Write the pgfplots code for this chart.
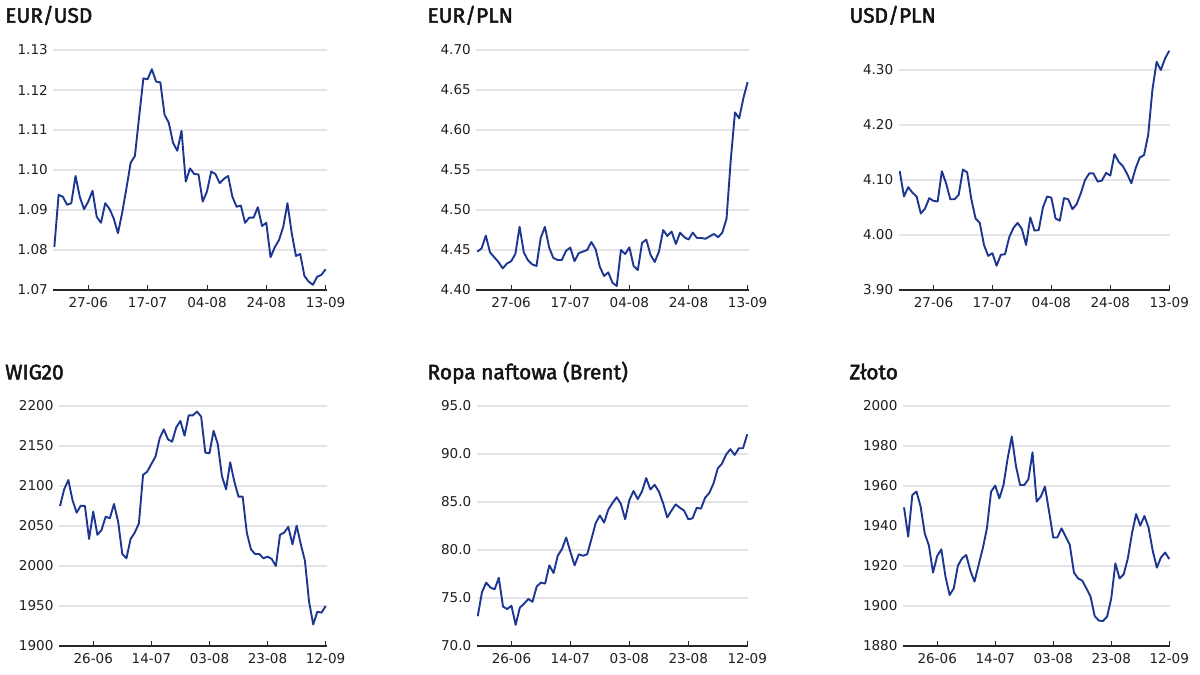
\documentclass[border=0pt]{standalone}
\usepackage{pgfplots}
\pgfplotsset{compat=1.18}
\usepackage{fontspec}
\setmainfont{DejaVu Sans}
\newfontfamily\tickfont{DejaVu Sans}
\newfontfamily\titlefont{Fira Sans}[BoldFont={*}, BoldFeatures={FakeBold=2.2}]
\definecolor{lineblue}{RGB}{28,54,145}
\definecolor{gridgray}{RGB}{228,228,232}
\definecolor{axisdark}{RGB}{40,40,40}
\pgfplotsset{
  panel/.style={
    scale only axis, height=240bp, anchor=south west,
    xmin=-0.25, xmax=64.25,
    axis x line*=bottom, axis y line*=left,
    y axis line style={draw=none},
    x axis line style={draw=axisdark, line width=1.5bp},
    ytick style={draw=none},
    xtick style={draw=axisdark, line width=0.9bp},
    tick align=inside, major tick length=5bp,
    ymajorgrids, grid style={draw=gridgray, line width=1.3bp},
    xtick={8,22,36,50,64},
    ticklabel style={font=\tickfont\fontsize{13.6}{15}\selectfont, text=black!88},
    yticklabel style={xshift=-2bp},
    xticklabel style={yshift=-3.5bp},
    clip=false,
  },
  ser/.style={draw=lineblue, line width=1.9bp, no marks, line join=round},
}
\begin{document}
\begin{tikzpicture}
\useasboundingbox (0bp,0bp) rectangle (1200bp,675bp);
\tikzset{ttl/.style={anchor=base west, inner sep=0pt, font=\titlefont\bfseries\fontsize{21}{24}\selectfont, text=black!92}}
\node[ttl] at (5bp,652.3bp) {EUR/USD};
\node[ttl] at (427.3bp,652.3bp) {EUR/PLN};
\node[ttl] at (849.3bp,652.3bp) {USD/PLN};
\node[ttl] at (5bp,295.7bp) {WIG20};
\node[ttl] at (427.3bp,295.7bp) {Ropa naftowa (Brent)};
\node[ttl] at (849.3bp,295.7bp) {Złoto};

% EUR/USD
\begin{axis}[panel, at={(53.3bp,385bp)}, width=273.4bp,
  ymin=1.07, ymax=1.13, ytick={1.07,1.08,1.09,1.10,1.11,1.12,1.13},
  yticklabels={1.07,1.08,1.09,1.10,1.11,1.12,1.13},
  xticklabels={27-06,17-07,04-08,24-08,13-09}]
\addplot[ser] coordinates {(0,1.0808)(1,1.0938)(2,1.0933)(3,1.0913)(4,1.0917)(5,1.0985)(6,1.0933)(7,1.0902)(8,1.0921)(9,1.0948)(10,1.0883)(11,1.0868)(12,1.0917)(13,1.0903)(14,1.0879)(15,1.0842)(16,1.0893)(17,1.0954)(18,1.1018)(19,1.1035)(20,1.1133)(21,1.1229)(22,1.1227)(23,1.1252)(24,1.1221)(25,1.1219)(26,1.1138)(27,1.1118)(28,1.1068)(29,1.1048)(30,1.1098)(31,1.0971)(32,1.1004)(33,1.0990)(34,1.0989)(35,1.0921)(36,1.0946)(37,1.0996)(38,1.0990)(39,1.0967)(40,1.0978)(41,1.0985)(42,1.0933)(43,1.0908)(44,1.0911)(45,1.0868)(46,1.0881)(47,1.0881)(48,1.0907)(49,1.0860)(50,1.0868)(51,1.0782)(52,1.0807)(53,1.0825)(54,1.0858)(55,1.0917)(56,1.0842)(57,1.0785)(58,1.0790)(59,1.0735)(60,1.0721)(61,1.0713)(62,1.0733)(63,1.0738)(64,1.0752)};
\end{axis}

% EUR/PLN
\begin{axis}[panel, at={(476.3bp,385bp)}, width=272.4bp,
  ymin=4.40, ymax=4.70, ytick={4.40,4.45,4.50,4.55,4.60,4.65,4.70},
  yticklabels={4.40,4.45,4.50,4.55,4.60,4.65,4.70},
  xticklabels={27-06,17-07,04-08,24-08,13-09}]
\addplot[ser] coordinates {(0,4.4479)(1,4.452)(2,4.468)(3,4.447)(4,4.441)(5,4.435)(6,4.427)(7,4.433)(8,4.436)(9,4.445)(10,4.479)(11,4.447)(12,4.437)(13,4.432)(14,4.430)(15,4.465)(16,4.479)(17,4.453)(18,4.440)(19,4.4375)(20,4.4375)(21,4.449)(22,4.453)(23,4.436)(24,4.446)(25,4.448)(26,4.450)(27,4.460)(28,4.451)(29,4.429)(30,4.4175)(31,4.422)(32,4.409)(33,4.405)(34,4.450)(35,4.445)(36,4.4533)(37,4.430)(38,4.425)(39,4.459)(40,4.463)(41,4.444)(42,4.435)(43,4.448)(44,4.475)(45,4.4675)(46,4.473)(47,4.4575)(48,4.4717)(49,4.466)(50,4.463)(51,4.4717)(52,4.465)(53,4.465)(54,4.464)(55,4.467)(56,4.470)(57,4.466)(58,4.4717)(59,4.489)(60,4.5625)(61,4.622)(62,4.6146)(63,4.640)(64,4.660)};
\end{axis}

% USD/PLN
\begin{axis}[panel, at={(898.7bp,385bp)}, width=271.6bp,
  ymin=3.90, ymax=4.3364, ytick={3.90,4.00,4.10,4.20,4.30},
  yticklabels={3.90,4.00,4.10,4.20,4.30},
  xticklabels={27-06,17-07,04-08,24-08,13-09}]
\addplot[ser] coordinates {(0,4.116)(1,4.070)(2,4.087)(3,4.077)(4,4.070)(5,4.039)(6,4.048)(7,4.067)(8,4.062)(9,4.061)(10,4.116)(11,4.094)(12,4.065)(13,4.065)(14,4.073)(15,4.119)(16,4.114)(17,4.065)(18,4.030)(19,4.022)(20,3.982)(21,3.962)(22,3.967)(23,3.944)(24,3.964)(25,3.965)(26,3.996)(27,4.013)(28,4.022)(29,4.011)(30,3.982)(31,4.032)(32,4.008)(33,4.009)(34,4.050)(35,4.070)(36,4.068)(37,4.030)(38,4.026)(39,4.067)(40,4.065)(41,4.047)(42,4.056)(43,4.076)(44,4.100)(45,4.112)(46,4.112)(47,4.097)(48,4.099)(49,4.113)(50,4.108)(51,4.147)(52,4.133)(53,4.125)(54,4.111)(55,4.094)(56,4.121)(57,4.141)(58,4.145)(59,4.182)(60,4.264)(61,4.315)(62,4.300)(63,4.321)(64,4.335)};
\end{axis}

% WIG20
\begin{axis}[panel, at={(59bp,29bp)}, width=267.7bp,
  ymin=1900, ymax=2200, ytick={1900,1950,2000,2050,2100,2150,2200},
  yticklabels={1900,1950,2000,2050,2100,2150,2200},
  xticklabels={26-06,14-07,03-08,23-08,12-09}]
\addplot[ser] coordinates {(0,2075)(1,2096)(2,2107.5)(3,2082.5)(4,2066.7)(5,2075.4)(6,2075)(7,2033.8)(8,2068)(9,2039)(10,2045)(11,2061.7)(12,2059.6)(13,2077.5)(14,2055.4)(15,2015)(16,2009.6)(17,2033.8)(18,2041.7)(19,2053.3)(20,2113.8)(21,2118)(22,2127.5)(23,2136.7)(24,2159.6)(25,2170.8)(26,2158.3)(27,2155.4)(28,2173.3)(29,2181.3)(30,2162.9)(31,2188.3)(32,2188.3)(33,2193)(34,2186.7)(35,2141.7)(36,2140.8)(37,2169)(38,2152.5)(39,2112.5)(40,2095.8)(41,2129.6)(42,2105.4)(43,2086.7)(44,2086.7)(45,2041.7)(46,2020.8)(47,2015)(48,2015)(49,2009.6)(50,2011.7)(51,2008.8)(52,2000)(53,2039)(54,2041.7)(55,2049)(56,2027)(57,2050.4)(58,2027.5)(59,2006.7)(60,1955.4)(61,1927)(62,1942.9)(63,1941.7)(64,1950)};
\end{axis}

% Brent
\begin{axis}[panel, at={(476.7bp,29bp)}, width=271.6bp,
  ymin=70, ymax=95, ytick={70,75,80,85,90,95},
  yticklabels={70.0,75.0,80.0,85.0,90.0,95.0},
  xticklabels={26-06,14-07,03-08,23-08,12-09}]
\addplot[ser] coordinates {(0,73.1)(1,75.6)(2,76.6)(3,76.1)(4,75.9)(5,77.1)(6,74.1)(7,73.85)(8,74.2)(9,72.2)(10,74.0)(11,74.4)(12,74.9)(13,74.6)(14,76.2)(15,76.6)(16,76.5)(17,78.4)(18,77.6)(19,79.4)(20,80.1)(21,81.3)(22,79.8)(23,78.4)(24,79.55)(25,79.4)(26,79.55)(27,81.15)(28,82.8)(29,83.6)(30,82.85)(31,84.2)(32,84.9)(33,85.5)(34,84.8)(35,83.2)(36,85.2)(37,86.15)(38,85.3)(39,86.1)(40,87.5)(41,86.3)(42,86.8)(43,86.1)(44,84.9)(45,83.4)(46,84.1)(47,84.75)(48,84.4)(49,84.1)(50,83.2)(51,83.3)(52,84.4)(53,84.3)(54,85.45)(55,85.95)(56,86.95)(57,88.5)(58,89.0)(59,89.95)(60,90.5)(61,89.9)(62,90.6)(63,90.6)(64,92.05)};
\end{axis}

% Gold
\begin{axis}[panel, at={(903bp,29bp)}, width=267.3bp,
  ymin=1880, ymax=2000, ytick={1880,1900,1920,1940,1960,1980,2000},
  yticklabels={1880,1900,1920,1940,1960,1980,2000},
  xticklabels={26-06,14-07,03-08,23-08,12-09}]
\addplot[ser] coordinates {(0,1949.3)(1,1934.7)(2,1955.5)(3,1957.2)(4,1949.7)(5,1936.3)(6,1930.2)(7,1916.7)(8,1925)(9,1928.3)(10,1914.7)(11,1905.5)(12,1908.8)(13,1920.2)(14,1923.8)(15,1925.5)(16,1917.7)(17,1912.2)(18,1920.5)(19,1928.8)(20,1938.8)(21,1957.2)(22,1960.2)(23,1953.8)(24,1960.5)(25,1973.8)(26,1984.7)(27,1970)(28,1960.5)(29,1960.5)(30,1963.3)(31,1976.8)(32,1952.2)(33,1954.7)(34,1959.7)(35,1947.2)(36,1934.2)(37,1934.3)(38,1938.8)(39,1934.7)(40,1930.5)(41,1916.7)(42,1913.8)(43,1912.7)(44,1908.8)(45,1904.7)(46,1895)(47,1892.7)(48,1892.5)(49,1894.7)(50,1903.8)(51,1921.3)(52,1913.8)(53,1915.8)(54,1923.8)(55,1936.3)(56,1946)(57,1940.2)(58,1945)(59,1939.2)(60,1927.7)(61,1919.2)(62,1924.3)(63,1926.7)(64,1923.5)};
\end{axis}
\end{tikzpicture}
\end{document}
